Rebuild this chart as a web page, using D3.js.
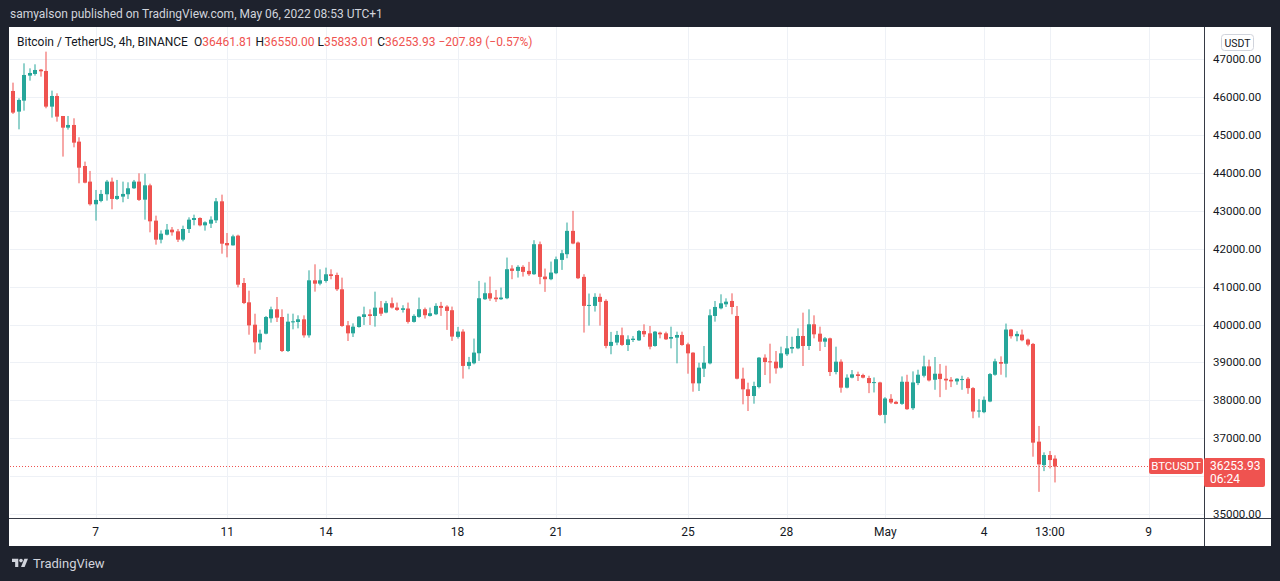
<!DOCTYPE html>
<html>
<head>
<meta charset="utf-8">
<script src="https://cdn.jsdelivr.net/npm/d3@7"></script>
<style>
  html, body { margin: 0; padding: 0; background: #1e222d; }
  svg { display: block; font-family: Roboto, "Noto Sans", sans-serif; }
</style>
</head>
<body>
<svg id="chart" width="1280" height="581"></svg>
<script>
// BTC/USDT 4h candles (oldest first)
const opens = [46164,45619,45909,46569,46613,46727,46692,45751,46032,45504,45196,45267,44827,44184,43772,43174,43262,43438,43772,43315,
  43376,43438,43596,43772,43296,43674,42742,42240,42372,42504,42460,42240,42522,42759,42812,42618,42662,42750,43252,42152,
  42090,42346,41096,40586,39996,39530,39759,40164,40402,40199,39302,40058,40067,40138,39715,41167,41079,41150,41326,41308,
  40930,39979,39768,39935,40199,40270,40226,40446,40316,40562,40448,40386,40422,40070,40202,40404,40228,40272,40492,40474,
  40378,39674,39814,38908,38978,39242,40668,40826,40712,40668,40694,41478,41416,41522,41416,41328,42120,41266,41196,41354,
  41706,41856,42472,42164,41258,40492,40492,40730,40624,39436,39524,39718,39460,39592,39583,39830,39768,39434,39786,39768,
  39627,39654,39724,39478,39258,38448,38835,38976,40226,40428,40534,40622,40226,38571,38290,38114,38351,39126,39029,39020,
  38862,39214,39363,39372,39698,39434,40006,39759,39548,39636,38747,39020,38334,38598,38686,38668,38588,38455,38472,37616,
  38040,37960,37907,38490,37792,38455,38649,38896,38543,38702,38570,38543,38499,38543,38570,38322,37704,37687,37969,38675,
  39011,38967,39868,39691,39735,39603,39488,36910,36291,36556,36461.81];
const highs = [46384,45971,46894,46762,46868,46745,47202,46173,46103,45504,45504,45443,44942,44300,44054,43552,43552,43816,43878,43816,
  43772,43754,43816,43992,43982,43718,42874,42486,42654,42574,42522,42610,42830,42900,42830,42724,42856,43340,43428,42416,
  42372,42372,41228,40894,40286,39864,40226,40472,40727,40402,40287,40287,40243,40243,41431,41590,41458,41502,41458,41370,
  41238,40094,40032,40226,40472,40402,40868,40622,40624,40712,40580,40510,40580,40272,40712,40448,40448,40562,40598,40510,
  40474,39938,39876,39146,39630,41152,41108,41266,40914,40976,41768,41566,41566,41566,41654,42226,42190,41478,41662,41794,
  41970,42692,43000,42190,41328,40818,40826,40818,40668,39806,39832,39920,39715,39698,39856,40006,39962,39830,39812,39812,
  39944,39812,39812,39522,39270,38994,39434,40402,40622,40798,40692,40824,40490,38862,38466,38492,39143,39214,39495,39302,
  39416,39698,39680,39900,40314,40402,40243,39944,39671,39654,39416,39082,38686,38800,38756,38703,38649,38605,38490,38084,
  38163,37987,38631,38675,38764,38808,39179,39073,39143,38958,38914,38614,38587,38649,38614,38349,38031,38102,38720,39099,
  39161,40026,39885,39823,39868,39629,39514,37324,36627,36662,36550.00];
const lows = [45558,45152,45645,46437,46569,46543,45707,45461,45355,44432,45144,44677,43728,43728,43139,42743,43227,43271,43042,43289,
  43227,43315,43579,43262,42768,42434,42108,42143,42354,42346,42178,42196,42416,42618,42592,42478,42548,42680,41870,41774,
  42082,40982,40540,39732,39230,39336,39742,40050,40067,39275,39275,39874,39900,39654,39654,40868,41035,41106,41194,40886,
  39940,39566,39671,39918,39988,39988,39944,40226,40298,40422,40360,40316,40026,40052,40180,40158,40210,40250,40228,39858,
  39568,39630,38574,38820,38950,39040,40650,40624,40598,40650,40670,41196,41240,41266,41284,41310,41064,40862,41170,41330,
  41442,41750,42120,41200,39788,39972,40342,39972,39374,39216,39454,39436,39302,39539,39566,39671,39346,39416,39636,39592,
  39372,38976,39440,38703,38228,38246,38615,38950,40076,40402,40463,40270,38554,37894,37718,37911,38316,38668,38448,38703,
  38840,39170,39240,39350,38906,39328,39636,39302,39407,38642,38686,38202,38316,38580,38510,38580,38190,38208,37589,37395,
  37907,37898,37881,37748,37748,38402,38605,38499,38278,38084,38278,38349,38411,38278,38172,37527,37545,37660,37951,38650,
  38675,38605,39629,39558,39558,39426,36512,35585,36132,36203,35833.01];
const closes = [45593,45927,46586,46639,46718,46683,45751,46032,45487,45196,45267,44800,44140,43744,43174,43289,43447,43772,43315,43394,
  43447,43596,43772,43289,43674,42724,42240,42398,42504,42434,42240,42522,42768,42812,42618,42698,42768,43252,42134,42090,
  42328,41052,40568,39978,39530,39758,40199,40402,40182,39302,40076,40085,40138,39715,41167,41079,41167,41326,41282,40930,
  39962,39768,39944,40208,40270,40226,40446,40287,40562,40448,40386,40430,40070,40228,40404,40246,40298,40492,40439,40360,
  39682,39814,38908,39014,39260,40694,40826,40686,40668,40712,41460,41416,41522,41390,41328,42120,41258,41196,41372,41724,
  41882,42472,42138,41222,40492,40518,40730,40598,39436,39542,39726,39462,39610,39627,39830,39742,39416,39812,39742,39610,
  39671,39724,39460,39240,38448,38862,38994,40244,40464,40560,40604,40463,38571,38290,38114,38378,39126,39011,39002,38844,
  39240,39372,39407,39698,39434,40006,39742,39548,39636,38747,39020,38334,38598,38686,38642,38598,38455,38481,37616,38049,
  37943,37907,38490,37766,38472,38676,38896,38525,38702,38561,38525,38499,38570,38561,38322,37704,37731,38013,38693,39029,
  38967,39868,39691,39753,39585,39470,36883,36309,36556,36424,36253.93];

const priceTicks = [35000,36000,37000,38000,39000,40000,41000,42000,43000,44000,45000,46000,47000];
// day labels on the time axis and the candle slot each one sits on
const timeLabels = ["7","11","14","18","21","25","28","May","4","13:00","9"];
const timeSlots  = [15,39,57,81,99,123,141,159,177,189,207];

const lastPrice = 36253.93;
const headerParts = [
  {t: "Bitcoin / TetherUS, 4h, BINANCE  ", c: "#131722"},
  {t: "O", c: "#131722"}, {t: "36461.81 ", c: "#ef5350"},
  {t: "H", c: "#131722"}, {t: "36550.00 ", c: "#ef5350"},
  {t: "L", c: "#131722"}, {t: "35833.01 ", c: "#ef5350"},
  {t: "C", c: "#131722"}, {t: "36253.93 ", c: "#ef5350"},
  {t: "\u2212207.89 (\u22120.57%)", c: "#ef5350"}
];

const UP = "#26a69a", DOWN = "#ef5350", GRID = "#eef1f6", DARK = "#1e222d";
const plot = {left: 10, right: 1204, top: 27, bottom: 518};

const svg = d3.select("#chart");

// frame
svg.append("rect").attr("width", 1280).attr("height", 581).attr("fill", DARK);
svg.append("rect").attr("x", 9).attr("y", 27).attr("width", 1262).attr("height", 519).attr("fill", "#fff");

svg.append("text")
  .attr("x", 10).attr("y", 18)
  .attr("fill", "#d1d4dc").style("font-size", "12px")
  .text("samyalson published on TradingView.com, May 06, 2022 08:53 UTC+1");

const x = d3.scaleLinear().domain([-0.6, 217.1]).range([plot.left, plot.right]);
const y = d3.scaleLinear().domain([35000, 47000]).range([514, 59.3]);

const data = opens.map((o, i) => ({i, o, h: highs[i], l: lows[i], c: closes[i]}));

// grid
const grid = svg.append("g").attr("shape-rendering", "crispEdges");
grid.selectAll(".hg").data(priceTicks).enter().append("line")
  .attr("x1", plot.left).attr("x2", plot.right)
  .attr("y1", d => Math.round(y(d)) + 0.5).attr("y2", d => Math.round(y(d)) + 0.5)
  .attr("stroke", GRID);
grid.selectAll(".vg").data(timeSlots).enter().append("line")
  .attr("x1", d => Math.round(x(d)) + 0.5).attr("x2", d => Math.round(x(d)) + 0.5)
  .attr("y1", plot.top).attr("y2", plot.bottom)
  .attr("stroke", GRID);

// last price dotted line
svg.append("line")
  .attr("x1", plot.left).attr("x2", 1149)
  .attr("y1", Math.round(y(lastPrice)) + 0.5).attr("y2", Math.round(y(lastPrice)) + 0.5)
  .attr("stroke", DOWN).attr("stroke-dasharray", "1,2");

// candles
const candles = svg.append("g").selectAll("g").data(data).enter().append("g");
candles.append("rect")
  .attr("x", d => Math.round(x(d.i)) - 0.5)
  .attr("width", 1)
  .attr("y", d => y(d.h))
  .attr("height", d => Math.max(1, y(d.l) - y(d.h)))
  .attr("fill", d => d.c >= d.o ? UP : DOWN);
candles.append("rect")
  .attr("x", d => Math.round(x(d.i)) - 2)
  .attr("width", 4)
  .attr("y", d => y(Math.max(d.o, d.c)))
  .attr("height", d => Math.max(1, Math.abs(y(d.o) - y(d.c))))
  .attr("fill", d => d.c >= d.o ? UP : DOWN);

// header legend
const hdr = svg.append("text").attr("x", 17).attr("y", 46).style("font-size", "12px").attr("xml:space", "preserve");
hdr.selectAll("tspan").data(headerParts).enter().append("tspan")
  .attr("fill", d => d.c).text(d => d.t);

// axis separators
svg.append("line").attr("x1", plot.right + 0.5).attr("x2", plot.right + 0.5).attr("y1", 27).attr("y2", 546)
  .attr("stroke", "#363a45");
svg.append("line").attr("x1", 9).attr("x2", 1271).attr("y1", plot.bottom + 0.5).attr("y2", plot.bottom + 0.5)
  .attr("stroke", "#363a45");

// price axis labels (the one hidden by the last-price tag is skipped)
const tagTop = Math.round(y(lastPrice)) - 8, tagBottom = tagTop + 29;
svg.append("g").selectAll("text")
  .data(priceTicks.filter(p => y(p) < tagTop - 6 || y(p) > tagBottom + 6))
  .enter().append("text")
  .attr("x", 1213).attr("y", d => y(d) + 4)
  .attr("fill", "#131722").style("font-size", "11.5px")
  .text(d => d3.format(".2f")(d));

// currency badge
svg.append("rect").attr("x", 1221.5).attr("y", 34.5).attr("width", 32).attr("height", 16).attr("rx", 3)
  .attr("fill", "#fff").attr("stroke", "#d1d4dc");
svg.append("text").attr("x", 1237.5).attr("y", 46.5).attr("text-anchor", "middle")
  .attr("fill", "#131722").style("font-size", "10.5px").text("USDT");

// last price tag + symbol tag
svg.append("rect").attr("x", 1204).attr("y", tagTop).attr("width", 61).attr("height", 29).attr("rx", 2).attr("fill", DOWN);
svg.append("text").attr("x", 1210).attr("y", tagTop + 12).attr("fill", "#fff").style("font-size", "12px")
  .text(d3.format(".2f")(lastPrice));
svg.append("text").attr("x", 1210).attr("y", tagTop + 25).attr("fill", "#fff").style("font-size", "12px")
  .text("06:24");
svg.append("rect").attr("x", 1149).attr("y", tagTop).attr("width", 54).attr("height", 16).attr("rx", 2).attr("fill", DOWN);
svg.append("text").attr("x", 1176).attr("y", tagTop + 12).attr("text-anchor", "middle")
  .attr("fill", "#fff").style("font-size", "11.5px").text("BTCUSDT");

// time axis labels
svg.append("g").selectAll("text").data(timeSlots).enter().append("text")
  .attr("x", d => x(d)).attr("y", 536).attr("text-anchor", "middle")
  .attr("fill", "#131722").style("font-size", "12px")
  .text((d, k) => timeLabels[k]);

// footer logo
const logo = svg.append("g").attr("transform", "translate(12,557) scale(0.45)").attr("fill", "#d1d4dc");
logo.append("path").attr("d", "M14 22H7V11H0V4h14v18z");
logo.append("circle").attr("cx", 20).attr("cy", 8).attr("r", 4);
logo.append("path").attr("d", "M28 22h-8l7.5-18h8L28 22z");
svg.append("text").attr("x", 33).attr("y", 568).attr("fill", "#d1d4dc").style("font-size", "13px")
  .text("TradingView");
</script>
</body>
</html>
